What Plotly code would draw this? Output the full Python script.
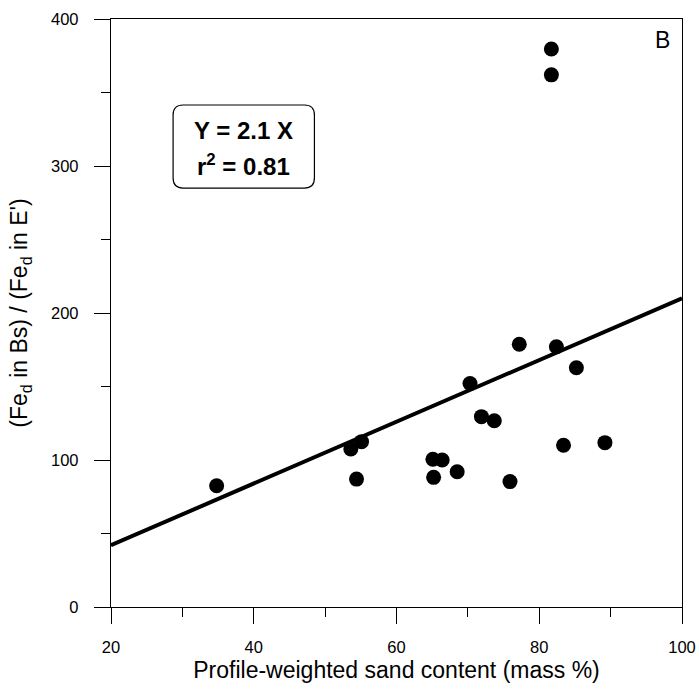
import plotly.graph_objects as go

# Data
sand_content = [34.8, 53.6, 55.1, 54.4, 65.1, 66.4, 65.2, 68.5, 70.3, 71.9,
                73.7, 75.9, 77.2, 82.4, 85.2, 83.4, 89.2, 81.7, 81.7]
fed_ratio = [82.5, 107.5, 112.5, 87.0, 100.5, 100.0, 88.2, 92.0, 152.0, 129.5,
             126.7, 85.3, 178.7, 177.0, 162.8, 110.0, 111.8, 379.6, 362.0]
fit_slope = [2.1]
fit_x = [20, 100]
fit_y = [fit_slope[0] * v for v in fit_x]
x_ticks = [20, 40, 60, 80, 100]
y_ticks = [0, 100, 200, 300, 400]

FONT = "Liberation Sans, Arial, sans-serif"

fig = go.Figure()
fig.add_trace(go.Scatter(x=fit_x, y=fit_y, mode="lines",
                         line=dict(color="black", width=4), showlegend=False,
                         hoverinfo="skip"))
fig.add_trace(go.Scatter(x=sand_content, y=fed_ratio, mode="markers",
                         marker=dict(color="black", size=15, line=dict(width=0)),
                         showlegend=False))

# rounded box (data coords)
bx0, bx1, by0, by1 = 28.7, 48.5, 285.0, 341.5
rx, ry = 1.4, 6.8
path = (f"M {bx0+rx},{by0} L {bx1-rx},{by0} Q {bx1},{by0} {bx1},{by0+ry} "
        f"L {bx1},{by1-ry} Q {bx1},{by1} {bx1-rx},{by1} "
        f"L {bx0+rx},{by1} Q {bx0},{by1} {bx0},{by1-ry} "
        f"L {bx0},{by0+ry} Q {bx0},{by0} {bx0+rx},{by0} Z")
fig.add_shape(type="path", path=path, xref="x", yref="y",
              line=dict(color="black", width=1.2), fillcolor="rgba(0,0,0,0)")

fig.add_annotation(x=(bx0+bx1)/2, y=324.0, xref="x", yref="y",
                   text="<b>Y = 2.1 X</b>", showarrow=False,
                   font=dict(family=FONT, size=24, color="black"))
fig.add_annotation(x=(bx0+bx1)/2, y=300.5, xref="x", yref="y",
                   text="<b>r<sup>2</sup> = 0.81</b>", showarrow=False,
                   font=dict(family=FONT, size=24, color="black"))
fig.add_annotation(x=1, y=1, xref="paper", yref="paper", xanchor="right",
                   yanchor="top", xshift=-10, yshift=-6,
                   text="B", showarrow=False,
                   font=dict(family=FONT, size=23, color="black"))

axis_common = dict(showline=True, linecolor="black", linewidth=1.3, mirror=True,
                   ticks="outside", ticklen=16, tickwidth=1.2, tickcolor="black",
                   showgrid=False, zeroline=False,
                   tickfont=dict(family=FONT, size=16.5, color="black"))

fig.update_xaxes(range=[20, 100], tickvals=x_ticks, ticklabelstandoff=9,
                 minor=dict(ticks="outside", ticklen=9, dtick=10, tick0=30,
                            tickcolor="black", tickwidth=1.2),
                 title=dict(text="Profile-weighted sand content (mass %)",
                            font=dict(family=FONT, size=23, color="black"),
                            standoff=6),
                 **axis_common)
fig.update_yaxes(range=[0, 400], tickvals=y_ticks, ticklabelstandoff=12,
                 minor=dict(ticks="outside", ticklen=9, dtick=50, tick0=50,
                            tickcolor="black", tickwidth=1.2),
                 title=dict(text="(Fe<sub>d</sub> in Bs) / (Fe<sub>d</sub> in E')",
                            font=dict(family=FONT, size=23, color="black"),
                            standoff=16),
                 **axis_common)

fig.update_layout(width=699, height=690, autosize=False,
                  margin=dict(l=111, r=17, t=19, b=83, autoexpand=False),
                  paper_bgcolor="white", plot_bgcolor="white",
                  font=dict(family=FONT, color="black"))

fig.write_html("out.html")
